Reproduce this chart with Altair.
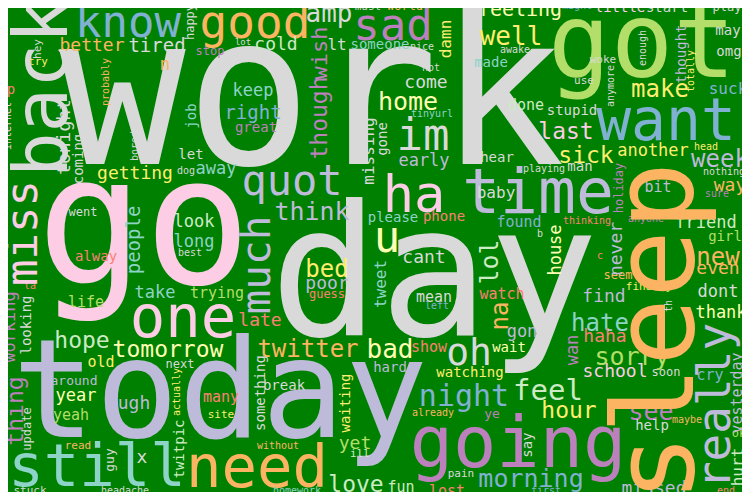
import altair as alt
import pandas as pd

# ---------------- horizontal words ----------------
h_words = [
    "work", "go", "day", "today", "got", "know", "good", "want", "time", "ha",
    "going", "need", "still", "one", "quot", "im", "sad", "oh", "u", "night",
    "feel", "think", "amp", "home", "twitter", "bad", "sick", "last", "make", "week",
    "hour", "see", "sorry", "hate", "morning", "tomorrow", "hope", "love", "new", "bed",
    "right", "keep", "great", "come", "early", "feeling", "cold", "tired", "better", "getting",
    "away", "let", "look", "long", "take", "trying", "life", "alway", "late", "year",
    "yeah", "ugh", "old", "next", "around", "many", "site", "read", "x", "stuck",
    "headache", "without", "yet", "ill", "fun", "homework", "lost", "break", "hard", "show",
    "poor", "guess", "cant", "mean", "left", "watch", "wait", "gon", "watching", "already",
    "ye", "pain", "first", "missed", "help", "maybe", "ok", "end", "cry", "soon",
    "school", "dont", "thank", "even", "haha", "finally", "seem", "c", "find", "girl",
    "friend", "anyone", "thinking", "b", "found", "baby", "sure", "way", "bit", "nothing",
    "man", "another", "head", "playing", "stupid", "done", "suck", "use", "woke", "omg",
    "may", "play", "start", "little", "might", "well", "awake", "made", "hot", "hear",
    "tinyurl", "nice", "someone", "lt", "world", "must", "lot", "stop", "n", "dog",
    "try", "p", "went", "best", "ta", "please", "phone",
]
h_x = [
    312, 144, 434, 220, 642, 128, 255, 666, 538, 414,
    518, 257, 97, 183, 292, 423, 393, 469, 387, 464,
    548, 312, 329, 408, 308, 390, 586, 566, 660, 720,
    569, 651, 632, 600, 531, 168, 82, 356, 718, 327,
    253, 253, 256, 426, 424, 520, 276, 157, 92, 135,
    216, 191, 194, 194, 155, 217, 86, 96, 260, 76,
    71, 134, 101, 180, 74, 221, 221, 78, 142, 30,
    125, 278, 355, 360, 401, 297, 447, 284, 390, 429,
    327, 327, 424, 434, 437, 502, 509, 522, 470, 433,
    492, 461, 546, 654, 652, 687, 739, 726, 710, 666,
    615, 718, 721, 718, 605, 649, 618, 600, 604, 725,
    706, 646, 587, 540, 519, 496, 717, 730, 658, 724,
    580, 653, 706, 544, 572, 526, 728, 584, 603, 729,
    728, 727, 667, 620, 577, 511, 515, 491, 431, 497,
    432, 422, 380, 337, 405, 368, 243, 210, 165, 186,
    38, 11, 83, 190, 30, 393, 444,
]
h_y = [
    101, 230, 280, 396, 46, 24, 24, 123, 194, 196,
    445, 469, 468, 319, 182, 137, 27, 354, 239, 397,
    391, 212, 14, 102, 350, 350, 156, 132, 90, 160,
    411, 412, 357, 324, 479, 350, 341, 485, 258, 270,
    113, 91, 128, 83, 161, 10, 45, 46, 46, 174,
    169, 155, 222, 242, 293, 293, 302, 257, 321, 396,
    415, 404, 362, 364, 381, 397, 415, 446, 458, 491,
    491, 446, 444, 454, 487, 491, 491, 386, 368, 347,
    284, 294, 258, 297, 306, 294, 348, 332, 373, 413,
    414, 474, 491, 489, 426, 420, 433, 491, 375, 372,
    372, 292, 313, 269, 337, 287, 275, 256, 297, 237,
    223, 219, 221, 234, 222, 193, 194, 186, 187, 172,
    167, 151, 147, 169, 111, 105, 89, 81, 60, 52,
    31, 7, 8, 8, 6, 37, 50, 63, 68, 158,
    114, 47, 45, 45, 6, 7, 42, 51, 65, 171,
    62, 90, 212, 253, 286, 218, 217,
]
h_size = [
    210, 178, 182, 138, 104, 44, 46, 58, 63, 52,
    72, 59, 59, 59, 42, 44, 44, 38, 44, 30,
    29, 25, 26, 25, 24, 26, 23, 23, 24, 24,
    23, 25, 25, 24, 25, 23, 23, 23, 24, 24,
    19, 17, 14, 18, 17, 20, 18, 19, 18, 18,
    17, 14, 17, 17, 17, 15, 15, 14, 18, 17,
    15, 18, 15, 12, 13, 15, 11, 11, 18, 11,
    10, 10, 18, 11, 15, 10, 15, 14, 14, 15,
    18, 12, 18, 15, 10, 15, 14, 17, 14, 10,
    13, 11, 10, 18, 14, 10, 12, 10, 15, 12,
    18, 17, 17, 18, 18, 11, 12, 10, 18, 14,
    17, 10, 10, 10, 15, 16, 10, 18, 15, 10,
    14, 17, 10, 10, 14, 15, 16, 11, 11, 14,
    14, 12, 14, 14, 10, 26, 10, 14, 10, 14,
    10, 10, 14, 16, 12, 11, 9, 12, 18, 10,
    11, 14, 12, 10, 10, 14, 14,
]
h_color = [
    "#d9d9d9", "#fccde5", "#d9d9d9", "#bebada", "#b3de69", "#80b1d3", "#fdb462", "#80b1d3", "#bebada", "#fccde5",
    "#bc80bd", "#fdb462", "#8dd3c7", "#fccde5", "#bebada", "#d9d9d9", "#bc80bd", "#d9d9d9", "#ffffb3", "#80b1d3",
    "#ccebc5", "#bebada", "#d9d9d9", "#ffffb3", "#fdb462", "#ffffb3", "#ffed6f", "#fccde5", "#ffed6f", "#bebada",
    "#ffed6f", "#bc80bd", "#b3de69", "#8dd3c7", "#80b1d3", "#ffffb3", "#ccebc5", "#ccebc5", "#fdb462", "#ffed6f",
    "#80b1d3", "#8dd3c7", "#bc80bd", "#d9d9d9", "#bebada", "#ffffb3", "#ccebc5", "#d9d9d9", "#fdb462", "#ffed6f",
    "#8dd3c7", "#d9d9d9", "#ccebc5", "#8dd3c7", "#8dd3c7", "#b3de69", "#b3de69", "#fb8072", "#fb8072", "#ffffb3",
    "#b3de69", "#bebada", "#ffed6f", "#d9d9d9", "#bebada", "#fb8072", "#ffed6f", "#fdb462", "#d9d9d9", "#d9d9d9",
    "#d9d9d9", "#fdb462", "#b3de69", "#ccebc5", "#ccebc5", "#8dd3c7", "#fb8072", "#d9d9d9", "#bebada", "#fb8072",
    "#bebada", "#fb8072", "#d9d9d9", "#d9d9d9", "#80b1d3", "#fb8072", "#ffffb3", "#bebada", "#ffed6f", "#fdb462",
    "#bc80bd", "#d9d9d9", "#80b1d3", "#bebada", "#d9d9d9", "#fdb462", "#b3de69", "#fb8072", "#80b1d3", "#d9d9d9",
    "#fccde5", "#d9d9d9", "#ffffb3", "#fdb462", "#fb8072", "#ffed6f", "#fdb462", "#fb8072", "#bebada", "#b3de69",
    "#ccebc5", "#bc80bd", "#fb8072", "#d9d9d9", "#80b1d3", "#d9d9d9", "#bc80bd", "#fdb462", "#bebada", "#d9d9d9",
    "#d9d9d9", "#ffed6f", "#ffed6f", "#d9d9d9", "#d9d9d9", "#ccebc5", "#80b1d3", "#d9d9d9", "#d9d9d9", "#d9d9d9",
    "#d9d9d9", "#d9d9d9", "#d9d9d9", "#fccde5", "#80b1d3", "#ffed6f", "#d9d9d9", "#8dd3c7", "#d9d9d9", "#d9d9d9",
    "#8dd3c7", "#d9d9d9", "#8dd3c7", "#d9d9d9", "#fdb462", "#d9d9d9", "#d9d9d9", "#bc80bd", "#fdb462", "#d9d9d9",
    "#ffed6f", "#fb8072", "#d9d9d9", "#d9d9d9", "#fb8072", "#8dd3c7", "#fb8072",
]

# ---------------- vertical words (read bottom to top) ----------------
v_words = [
    "back", "sleep", "miss", "much", "really", "lol", "na", "thing", "though", "wish",
    "people", "working", "tonight", "coming", "missing", "gone", "damn", "job", "happy", "probably",
    "bored", "looking", "update", "actually", "guy", "twitpic", "something", "waiting", "tweet", "wan",
    "say", "yesterday", "hurt", "th", "never", "house", "holiday", "thought", "totally", "enough",
    "anymore", "hey", "internet",
]
v_x = [
    45, 659, 24, 258, 716, 490, 501, 16, 320, 320,
    134, 10, 65, 79, 369, 383, 446, 192, 190, 106,
    135, 27, 27, 177, 110, 180, 261, 346, 381, 573,
    528, 737, 738, 669, 617, 556, 619, 682, 691, 643,
    611, 38, 8,
]
v_y = [
    88, 332, 233, 265, 406, 262, 316, 411, 118, 53,
    240, 327, 137, 159, 151, 139, 39, 116, 22, 82,
    146, 325, 429, 392, 460, 449, 393, 403, 284, 350,
    445, 393, 467, 306, 249, 250, 188, 54, 71, 48,
    86, 49, 126,
]
v_size = [
    74, 113, 44, 41, 46, 25, 24, 23, 23, 22,
    19, 17, 18, 14, 16, 14, 16, 14, 12, 10,
    10, 14, 12, 10, 13, 14, 14, 14, 16, 17,
    14, 15, 16, 10, 18, 17, 12, 14, 10, 10,
    10, 11, 10,
]
v_color = [
    "#d9d9d9", "#fdb462", "#fccde5", "#bebada", "#bebada", "#ccebc5", "#fdb462", "#bc80bd", "#bc80bd", "#bc80bd",
    "#8dd3c7", "#bc80bd", "#d9d9d9", "#d9d9d9", "#d9d9d9", "#d9d9d9", "#ffed6f", "#8dd3c7", "#d9d9d9", "#fdb462",
    "#d9d9d9", "#d9d9d9", "#d9d9d9", "#ffed6f", "#d9d9d9", "#ccebc5", "#d9d9d9", "#ffed6f", "#8dd3c7", "#bc80bd",
    "#d9d9d9", "#bebada", "#ccebc5", "#d9d9d9", "#bebada", "#ffffb3", "#bc80bd", "#bebada", "#ffed6f", "#d9d9d9",
    "#d9d9d9", "#d9d9d9", "#fccde5",
]

h = pd.DataFrame({"word": h_words, "x": h_x, "y": h_y, "size": h_size,
                  "color": h_color})
h["angle"] = 0
v = pd.DataFrame({"word": v_words, "x": v_x, "y": v_y, "size": v_size,
                  "color": v_color})
v["angle"] = 270
df = pd.concat([h, v], ignore_index=True)

# The page has an 8px margin: the drawing is 734x484 so the page is 750x500,
# and the scales map picture pixels 8..742 / 8..492 onto it.
chart = (
    alt.Chart(df)
    .mark_text(font="DejaVu Sans Mono", align="center", baseline="middle")
    .encode(
        x=alt.X("x:Q", scale=alt.Scale(domain=[8, 742], nice=False, zero=False), axis=None),
        y=alt.Y("y:Q", scale=alt.Scale(domain=[8, 492], nice=False, zero=False, reverse=True), axis=None),
        text="word:N",
        size=alt.Size("size:Q", scale=None, legend=None),
        angle=alt.Angle("angle:Q", scale=None),
        color=alt.Color("color:N", scale=None, legend=None),
    )
    .properties(width=734, height=484, background="#008000", padding=0, autosize="none")
    .configure_view(stroke=None)
)

chart.save("out.html", embed_options={"renderer": "svg", "actions": False})
